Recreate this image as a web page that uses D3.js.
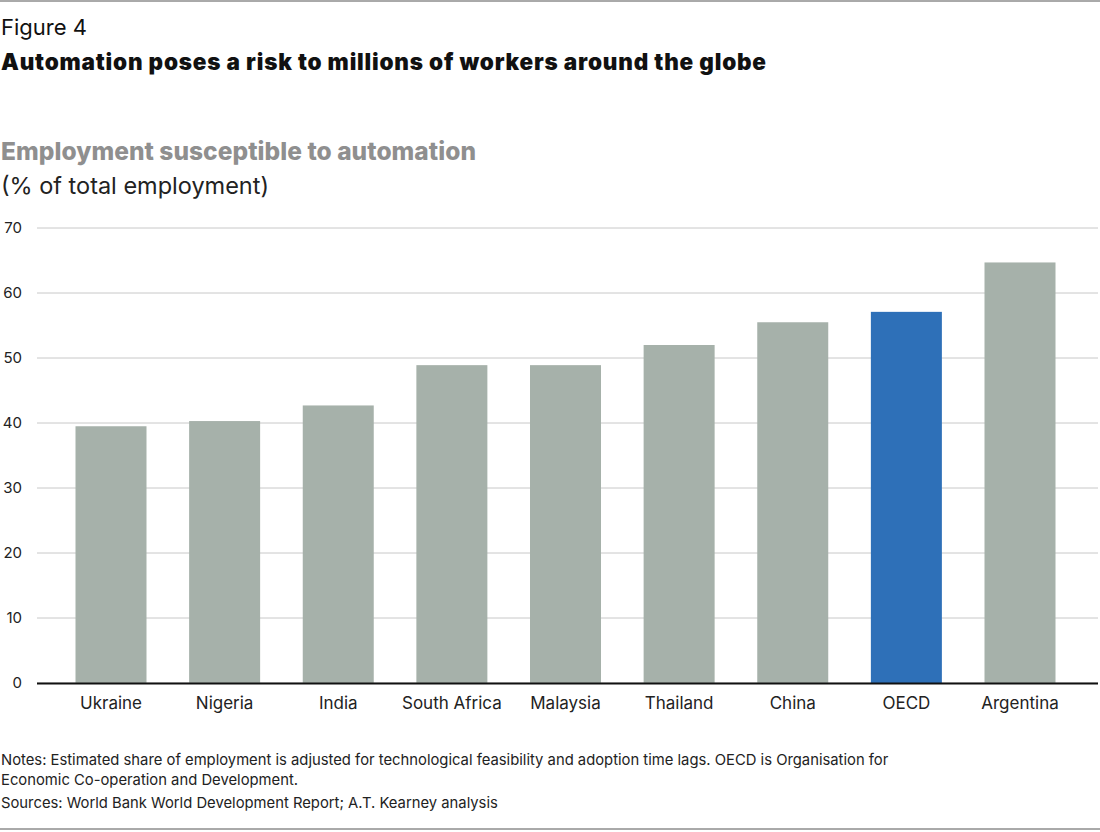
<!DOCTYPE html><html><head><meta charset="utf-8"><script src="https://cdn.jsdelivr.net/npm/d3@7"></script>
<style>body{margin:0;background:#fff}text{font-family:Inter,"Noto Sans",sans-serif}</style></head><body><svg id="c" width="1100" height="832"></svg><script>
const categories=["Ukraine","Nigeria","India","South Africa","Malaysia","Thailand","China","OECD","Argentina"];
const values=[39.5,40.3,42.7,48.9,48.9,52.0,55.5,57.1,64.7];
const highlight=["OECD"];
const yTicks=[0,10,20,30,40,50,60,70];
const svg=d3.select("#c");
svg.append("line").attr("x1",0).attr("x2",1100).attr("y1",1).attr("y2",1).attr("stroke","#555");
svg.append("line").attr("x1",0).attr("x2",1100).attr("y1",829).attr("y2",829).attr("stroke","#555");
svg.append("text").attr("x",1).attr("y",35).attr("font-size",22).attr("fill","#111").text("Figure 4");
svg.append("text").attr("x",1).attr("y",70).attr("font-size",22.5).attr("font-weight",900).attr("fill","#111").attr("textLength",765).text("Automation poses a risk to millions of workers around the globe");
svg.append("text").attr("x",1).attr("y",160).attr("font-size",24.5).attr("font-weight",800).attr("fill","#8f8f8f").attr("textLength",475).text("Employment susceptible to automation");
svg.append("text").attr("x",1).attr("y",194).attr("font-size",23.5).attr("fill","#222").attr("textLength",268).text("(% of total employment)");
const y=d3.scaleLinear().domain([0,70]).range([683,228]);
const x=d3.scalePoint().domain(categories).range([111,1020]);
const bw=71;
const g=svg.append("g");
g.selectAll("line.g").data(yTicks).join("line").attr("x1",37).attr("x2",1098).attr("y1",d=>y(d)).attr("y2",d=>y(d)).attr("stroke","#c8c8c8");
g.selectAll("text.t").data(yTicks).join("text").attr("x",22).attr("y",d=>y(d)+5).attr("text-anchor","end").attr("font-size",15).attr("fill","#222").text(d=>d);
g.selectAll("rect").data(categories).join("rect").attr("x",d=>x(d)-bw/2).attr("width",bw).attr("y",(d,i)=>y(values[i])).attr("height",(d,i)=>y(0)-y(values[i])).attr("fill",d=>highlight.includes(d)?"#2e70b8":"#a6b1aa");
svg.append("line").attr("x1",37).attr("x2",1098).attr("y1",683.5).attr("y2",683.5).attr("stroke","#111").attr("stroke-width",2);
g.selectAll("text.c").data(categories).join("text").attr("x",d=>x(d)).attr("y",709).attr("text-anchor","middle").attr("font-size",17).attr("fill","#222").text(d=>d);
const notes=["Notes: Estimated share of employment is adjusted for technological feasibility and adoption time lags. OECD is Organisation for","Economic Co-operation and Development."];
notes.forEach((t,i)=>svg.append("text").attr("x",1).attr("y",765+i*20).attr("font-size",14.8).attr("fill","#222").text(t));
svg.append("text").attr("x",1).attr("y",808).attr("font-size",14.8).attr("fill","#222").text("Sources: World Bank World Development Report; A.T. Kearney analysis");
</script></body></html>
